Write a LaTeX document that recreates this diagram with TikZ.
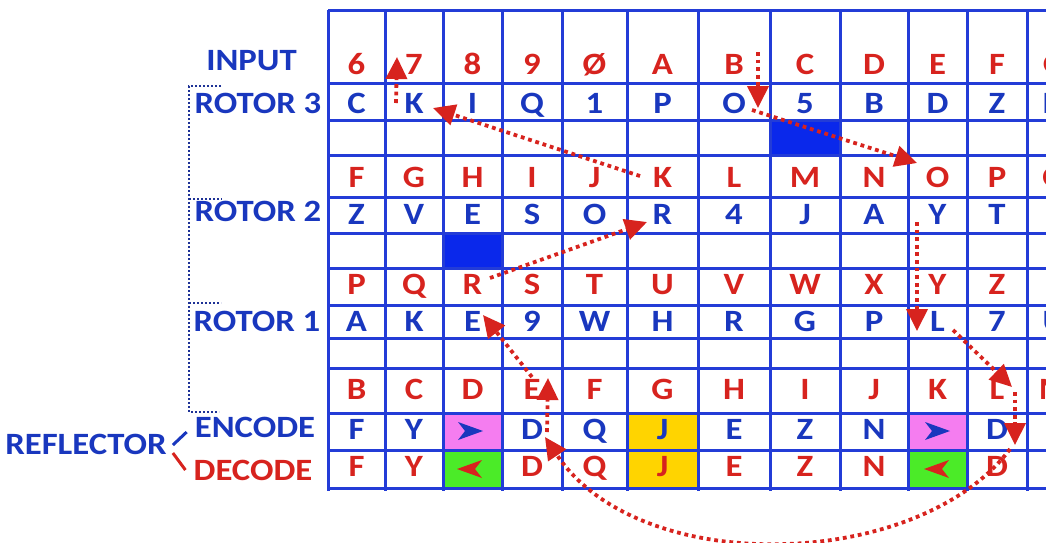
\documentclass[tikz,border=0pt]{standalone}
\usepackage{fontspec}
\setmainfont{Carlito}[FakeStretch=1.12]
\usetikzlibrary{arrows.meta}
\definecolor{gridblue}{RGB}{35,60,215}
\definecolor{tblue}{RGB}{25,55,190}
\definecolor{tred}{RGB}{215,35,30}
\definecolor{cpink}{RGB}{245,125,240}
\definecolor{cgreen}{RGB}{75,235,40}
\definecolor{cyellow}{RGB}{255,212,0}
\definecolor{cfill}{RGB}{10,40,235}
\definecolor{brkblue}{RGB}{30,50,150}
\newcommand\gridrow[4]{%
  \foreach \t [count=\i] in {#4} {%
    \pgfmathsetmacro\xx{{356.5,414,472.5,532,594.5,662.5,734,805,874,937.5,997,1054}[\i-1]}%
    \node[#2] (#3c\i) at (\xx,#1) {\t};
  }}
\newcommand\gridrowat[4]{%
  \foreach \t/\i in {#4} {%
    \pgfmathsetmacro\xx{{356.5,414,472.5,532,594.5,662.5,734,805,874,937.5,997,1054}[\i-1]}%
    \node[#2] (#3c\i) at (\xx,#1) {\t};
  }}
\begin{document}
\begin{tikzpicture}[x=1pt,y=-1pt,
  cell/.style={inner sep=0pt, font=\bfseries\fontsize{31}{31}\selectfont, text height=19.6pt, text depth=0pt},
  bl/.style={cell, text=tblue},
  rd/.style={cell, text=tred},
  lab/.style={inner sep=0pt, font=\bfseries\fontsize{31}{31}\selectfont, text height=19.6pt, text depth=0pt},
  gridline/.style={draw=gridblue, line width=3pt},
  flow/.style={draw=tred, line width=3.8pt, dash pattern=on 3.8pt off 3.8pt,
    -{Triangle[length=22pt,width=21pt]}, fill=none},
  brk/.style={draw=brkblue, line width=2pt, dash pattern=on 2pt off 2pt},
  sym/.style={line join=round}
]
\useasboundingbox (0,0) rectangle (1046,542);
\begin{scope}
\clip (0,0) rectangle (1046,542);
% coloured cells
\fill[cfill] (770,120) rectangle (840,155);
\fill[cfill] (443,233) rectangle (502,268);
\fill[cpink] (443,413) rectangle (502,450);
\fill[cpink] (908,413) rectangle (967,450);
\fill[cgreen] (443,450) rectangle (502,488);
\fill[cgreen] (908,450) rectangle (967,488);
\fill[cyellow] (627,413) rectangle (698,488);
% grid
\foreach \y in {10,83,120,155,197,233,268,305,338,368,413,450,488}
  \draw[gridline] (328,\y) -- (1060,\y);
\foreach \x in {328,385,443,502,562,627,698,770,840,908,967,1027}
  \draw[gridline] (\x,10) -- (\x,491);
% letters
\gridrow{65}{rd}{r0}{6,7,8,9,Ø,A,B,C,D,E,F,G}
\gridrow{104}{bl}{r1}{C,K,I,Q,1,P,O,5,B,D,Z,N}
\gridrow{178}{rd}{r3}{F,G,H,I,J,K,L,M,N,O,P,Q}
\gridrow{215}{bl}{r4}{Z,V,E,S,O,R,4,J,A,Y,T,Z}
\gridrow{285}{rd}{r6}{P,Q,R,S,T,U,V,W,X,Y,Z,1}
\gridrow{322}{bl}{r7}{A,K,E,9,W,H,R,G,P,L,7,U}
\gridrow{390}{rd}{r9}{B,C,D,E,F,G,H,I,J,K,L,M}
\gridrowat{430}{bl}{r10}{F/1,Y/2,D/4,Q/5,J/6,E/7,Z/8,N/9,D/11,B/12}
\gridrowat{467}{rd}{r11}{F/1,Y/2,D/4,Q/5,J/6,E/7,Z/8,N/9,D/11,B/12}
% direction symbols
\foreach \cx in {470,937}{
  \fill[tblue,sym] (\cx+13,431) -- (\cx-12,422) -- (\cx-5,431) -- (\cx-12,440) -- cycle;
  \fill[tred,sym] (\cx-13,469) -- (\cx+12,460) -- (\cx+5,469) -- (\cx+12,478) -- cycle;
}
% path of the signal
\coordinate (a1s) at (758,52);   \coordinate (a1e) at (758,108);
\coordinate (a2s) at (752,110);  \coordinate (a2e) at (917,163);
\coordinate (a3s) at (640,176);  \coordinate (a3e) at (433,108);
\coordinate (a4s) at (396,103);  \coordinate (a4e) at (397,57);
\coordinate (a5s) at (490,278);  \coordinate (a5e) at (647,222);
\coordinate (a6s) at (917,222);  \coordinate (a6e) at (917,331);
\coordinate (a7s) at (953,330);  \coordinate (a7e) at (1012,387);
\coordinate (a8s) at (1015,392); \coordinate (a8e) at (1015,445);
\coordinate (a9s) at (1010,449); \coordinate (a9e) at (545,437);
\coordinate (a10s) at (547,432); \coordinate (a10e) at (548,378);
\coordinate (a11s) at (532,377); \coordinate (a11e) at (483,315);
\draw[flow] (a1s) -- (a1e);
\draw[flow] (a2s) -- (a2e);
\draw[flow] (a3s) -- (a3e);
\draw[flow] (a4s) -- (a4e);
\draw[flow] (a5s) -- (a5e);
\draw[flow] (a6s) -- (a6e);
\draw[flow] (a7s) -- (a7e);
\draw[flow] (a8s) -- (a8e);
\draw[flow] (a9s) .. controls (920,570) and (640,580) .. (a9e);
\draw[flow] (a10s) -- (a10e);
\draw[flow] (a11s) -- (a11e);
\end{scope}
% row labels
\node[lab, text=tblue] (input) at (251.5,61) {INPUT};
\node[lab, text=tblue] (rot3) at (258,104) {ROTOR 3};
\node[lab, text=tblue] (rot2) at (258,212) {ROTOR 2};
\node[lab, text=tblue] (rot1) at (257,322) {ROTOR 1};
\node[lab, text=tblue] (enc) at (255,428) {ENCODE};
\node[lab, text=tred] (dec) at (253,471) {DECODE};
\node[lab, text=tblue] (refl) at (86,445) {REFLECTOR};
\draw[tblue, line width=3pt] ([shift={(6,0)}]refl.east) -- ([shift={(-8,4)}]enc.west);
\draw[tred, line width=3pt] ([shift={(6,8)}]refl.east) -- ([shift={(-8,-1)}]dec.west);
% bracket of the rotors
\coordinate (bt) at (189,86);
\coordinate (bb) at (189,412);
\draw[brk] (221,86) -- (bt) -- (bb) -- (219,412);
\draw[brk] (189,199) -- (222,199);
\draw[brk] (189,303) -- (221,303);
\end{tikzpicture}
\end{document}
